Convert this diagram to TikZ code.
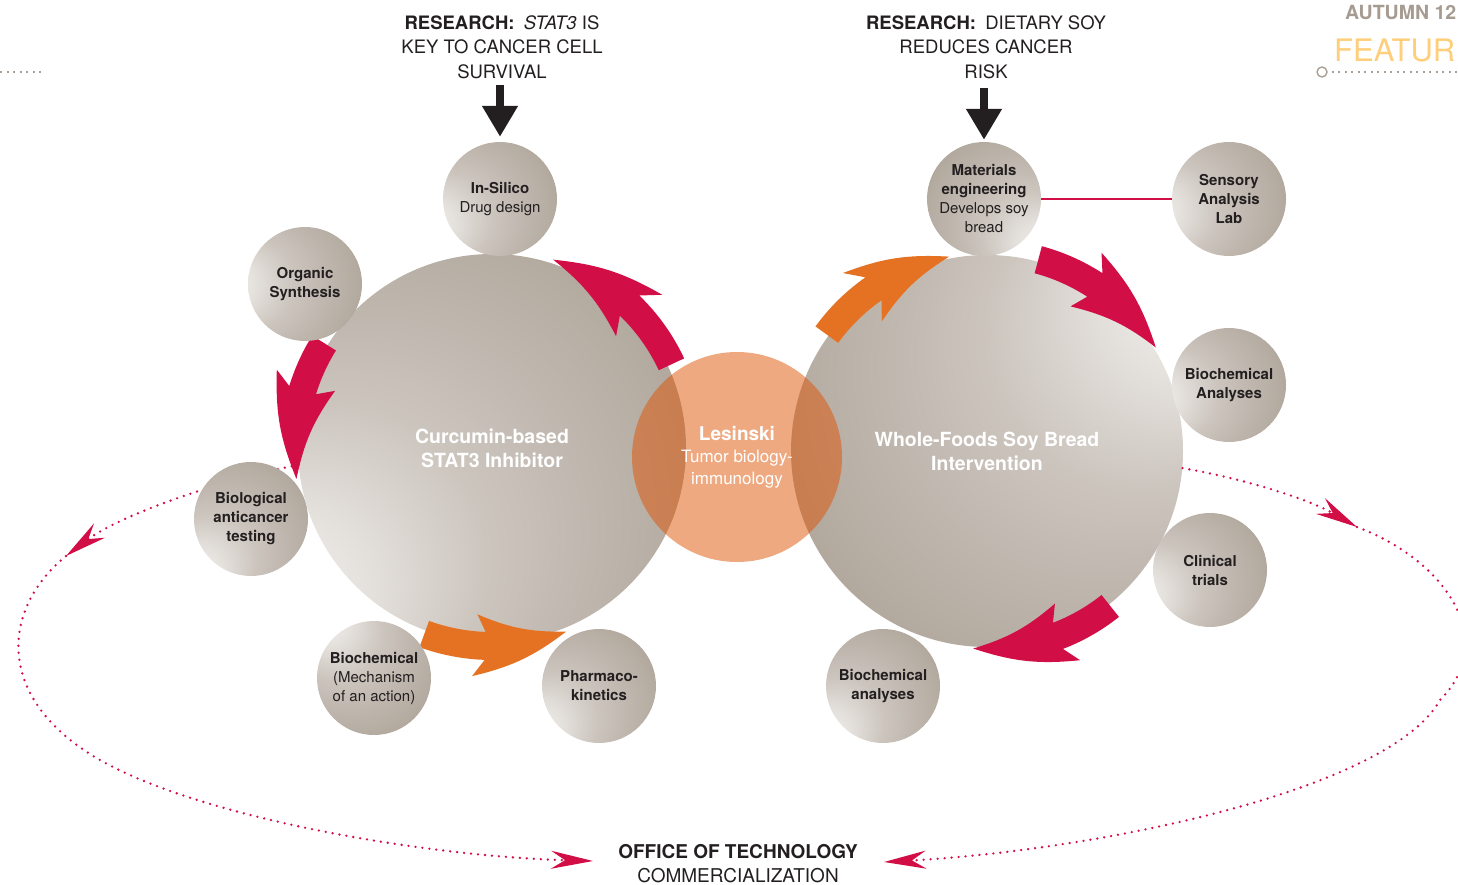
\documentclass[tikz,border=0pt]{standalone}
\usepackage{fontspec}
\setmainfont{TeX Gyre Heros}
\usepackage{tikz}
\usetikzlibrary{positioning,arrows.meta}

\definecolor{crimson}{RGB}{210,14,70}
\definecolor{arrowOrange}{RGB}{229,114,34}
\definecolor{lesOrange}{RGB}{222,84,4}
\definecolor{inkDark}{RGB}{35,31,32}
\definecolor{inkGray}{RGB}{70,68,68}
\definecolor{dateGray}{RGB}{165,155,145}
\definecolor{featureYellow}{RGB}{254,206,122}
\definecolor{dotGray}{RGB}{170,160,150}
\definecolor{ballLight}{RGB}{244,242,240}
\definecolor{ballMid}{RGB}{204,197,190}
\definecolor{ballDark}{RGB}{172,162,151}

\pgfdeclareradialshading{ballshade}{\pgfpoint{0bp}{-42bp}}{color(0bp)=(ballLight); color(5bp)=(ballLight); color(20bp)=(ballMid); color(40bp)=(ballDark); color(50bp)=(ballDark)}

\newcommand{\bandarrow}[8]{%
	\fill[#1, shift={(#2)}] (#3:212) arc[start angle=#3, end angle=#4, radius=212]
	-- (#5:229) to[bend #7=12] (#6:198) to[bend #8=12] (#5:167)
	-- (#4:184) arc[start angle=#4, end angle=#3, radius=184] -- cycle;}

\begin{document}
\begin{tikzpicture}[x=1pt, y=-1pt,
	ball/.style={circle, inner sep=0pt, minimum size=114pt, shade, shading=ballshade, text=inkDark, align=center, font=\bfseries\fontsize{15}{19}\selectfont},
	bigball/.style={circle, inner sep=0pt, shade, shading=ballshade, text=white, align=center, font=\bfseries\fontsize{19.5}{24}\selectfont},
	heading/.style={align=center, text=inkDark, font=\fontsize{18.5}{24.5}\selectfont},
	dotline/.style={crimson, line width=2.6pt, line cap=round, dash pattern=on 0pt off 7pt},
	dottip/.style={-{Stealth[length=42pt, width=18pt, inset=14pt]}},
	graydots/.style={dotGray, line width=2pt, dash pattern=on 2pt off 4.5pt},
	blackarrow/.style={inkDark, line width=8pt, -{Triangle[length=31pt, width=34pt]}},
	linkline/.style={crimson, line width=1.3pt}]

	\useasboundingbox (0,0) rectangle (1458,885);
	\clip (0,0) rectangle (1458,885);

	\node[bigball, minimum size=388pt, shading angle=-55] (curcumin) at (492,448) {Curcumin-based\\STAT3 Inhibitor};
	\node[bigball, minimum size=392pt, shading angle=127] (soybread) at (987,451) {Whole-Foods Soy Bread\\Intervention};

	\coordinate (lmid) at (66,556);
	\coordinate (lend) at (593,861);
	\coordinate (rmid) at (1357,527);
	\coordinate (rend) at (884,862);
	\draw[dotline, dottip] (curcumin.185) .. controls (220,480) and (120,515) .. (lmid);
	\draw[dotline, dottip] (lmid) .. controls (0,610) and (-5,700) .. (100,760) .. controls (200,817) and (420,856) .. (lend);
	\draw[dotline, dottip] (soybread.-5) .. controls (1250,480) and (1310,500) .. (rmid);
	\draw[dotline, dottip] (rmid) .. controls (1445,560) and (1500,640) .. (1440,700) .. controls (1390,790) and (1100,850) .. (rend);

	\bandarrow{crimson}{curcumin}{-25}{-46}{-42}{-72}{right}{left}
	\bandarrow{crimson}{curcumin}{-148}{-163}{-160}{-189}{right}{left}
	\bandarrow{arrowOrange}{curcumin}{-250}{-268}{-265}{-292}{right}{left}
	\bandarrow{arrowOrange}{soybread}{-144}{-125}{-129}{-101}{left}{right}
	\bandarrow{crimson}{soybread}{-75}{-57}{-60}{-31.5}{left}{right}
	\bandarrow{crimson}{soybread}{-308.5}{-291}{-294}{-266}{left}{right}

	\node[circle, fill=lesOrange, fill opacity=0.5, text opacity=1, inner sep=0pt, minimum size=210pt, align=center, text=white, font=\fontsize{17}{22}\selectfont] (lesinski) at (737,457) {{\bfseries\fontsize{19}{22}\selectfont Lesinski}\\Tumor biology-\\immunology};

	\node[ball, shading angle=-70] (insilico) at (500,199) {In-Silico\\\textmd{Drug design}};
	\node[ball, shading angle=-90] (organic) at (305,284) {Organic\\Synthesis};
	\node[ball, shading angle=-45] (biotest) at (251,519) {Biological\\anticancer\\testing};
	\node[ball, shading angle=-140] (mechanism) at (374,678) {Biochemical\\\textmd{(Mechanism}\\\textmd{of an action)}};
	\node[ball, shading angle=-55] (pharma) at (599,686) {Pharmaco-\\kinetics};
	\node[ball, shading angle=50] (materials) at (984,199) {Materials\\engineering\\\textmd{Develops soy}\\\textmd{bread}};
	\node[ball, shading angle=-80] (sensory) at (1229,199) {Sensory\\Analysis\\Lab};
	\node[ball, shading angle=-80] (analysesR) at (1229,385) {Biochemical\\Analyses};
	\node[ball, shading angle=-70] (clinical) at (1210,570) {Clinical\\trials};
	\node[ball, shading angle=-50] (analysesB) at (883,686) {Biochemical\\analyses};

	\draw[linkline] (materials) -- (sensory);

	\node[heading] (headL) at (502,47) {\textbf{RESEARCH:}\enspace\textit{STAT3} IS\\KEY TO CANCER CELL\\SURVIVAL};
	\node[heading] (headR) at (986,47) {\textbf{RESEARCH:}\enspace DIETARY SOY\\REDUCES CANCER\\RISK};
	\draw[blackarrow, shorten <=3pt, shorten >=5pt] (headL.south -| insilico) -- (insilico.north);
	\draw[blackarrow, shorten <=6pt, shorten >=2pt] (headR.south -| materials) -- (materials.north);

	\node[heading, font=\fontsize{19}{24}\selectfont] (otc) at (738,864) {\textbf{OFFICE OF TECHNOLOGY}\\COMMERCIALIZATION};

	\node[anchor=base west, inner sep=0pt, text=dateGray, font=\bfseries\fontsize{19.5}{20}\selectfont] (issue) at (1345,20) {AUTUMN 12};
	\node[anchor=base west, inner sep=0pt, text=featureYellow, font=\fontsize{31}{32}\selectfont] (section) at (1334,62) {FEATURE};
	\node[circle, draw=dotGray, line width=1.4pt, fill=white, inner sep=0pt, minimum size=10pt] (ring) at (1322,72) {};
	\draw[graydots] (ring.east) ++(4,0) -- ++(140,0);
	\draw[graydots] (0,72) -- (45,72);
\end{tikzpicture}
\end{document}
